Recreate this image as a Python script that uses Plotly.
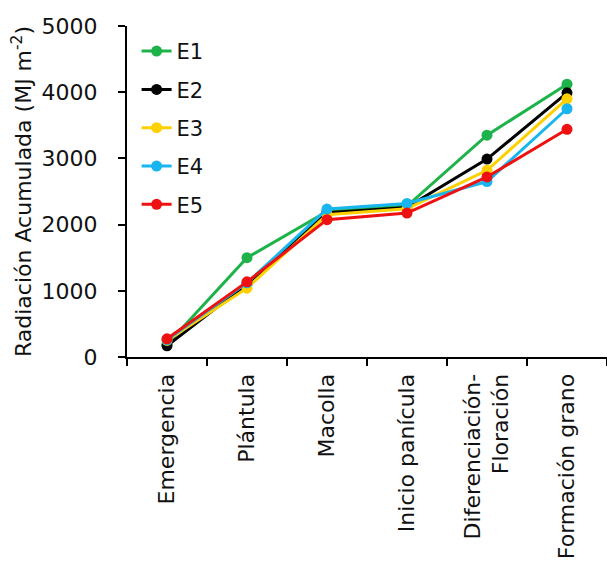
import plotly.graph_objects as go

categories = ["Emergencia", "Plántula", "Macolla", "Inicio panícula",
              "Diferenciación-<br>Floración", "Formación grano"]
series_names = ["E1", "E2", "E3", "E4", "E5"]
E1 = [190, 1500, 2200, 2280, 3350, 4120]
E2 = [170, 1100, 2180, 2260, 2990, 3990]
E3 = [250, 1040, 2150, 2240, 2820, 3900]
E4 = [260, 1120, 2235, 2320, 2650, 3750]
E5 = [275, 1135, 2075, 2175, 2720, 3440]
colors = ["#1DB34A", "#000000", "#FFD000", "#19B5EE", "#EE1111"]

fig = go.Figure()
for name, vals, c in zip(series_names, [E1, E2, E3, E4, E5], colors):
    fig.add_trace(go.Scatter(
        x=categories, y=vals, name=name, mode="lines+markers",
        line=dict(color=c, width=3),
        marker=dict(color=c, size=11, symbol="circle"),
        legendgroup=name,
    ))

font = "DejaVu Sans"
fig.update_layout(
    width=607, height=567,
    margin=dict(l=127, r=0, t=26, b=210),
    plot_bgcolor="white", paper_bgcolor="white",
    font=dict(family=font, size=21, color="#111111"),
    showlegend=True,
    legend=dict(x=0.02, y=0.985, xanchor="left", yanchor="top",
                font=dict(size=21), tracegroupgap=8,
                bgcolor="rgba(0,0,0,0)", itemwidth=30),
    xaxis=dict(
        type="category", showline=True, linecolor="black", linewidth=2,
        ticks="outside", tickson="boundaries", ticklen=7, tickwidth=2,
        tickcolor="black", tickangle=-90, showgrid=False,
        range=[-0.5, 5.5], tickfont=dict(size=22), ticklabelstandoff=6,
    ),
    yaxis=dict(
        range=[0, 5000], tickvals=[0, 1000, 2000, 3000, 4000, 5000],
        showline=True, linecolor="black", linewidth=2,
        ticks="outside", ticklen=7, tickwidth=2, tickcolor="black",
        showgrid=False, zeroline=False, tickfont=dict(size=22),
        ticklabelstandoff=16,
        title=dict(text="Radiación Acumulada (MJ m<sup>-2</sup>)",
                   font=dict(size=22), standoff=4),
    ),
)

fig.write_html("out.html")
